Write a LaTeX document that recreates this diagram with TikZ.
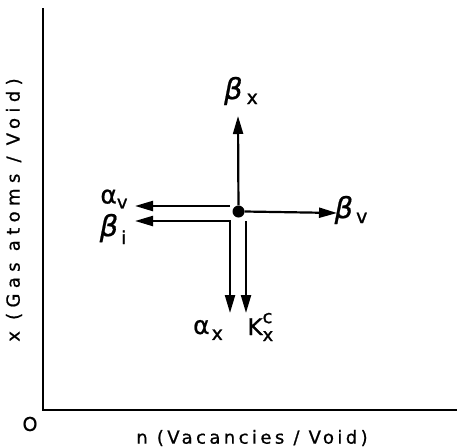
\documentclass[tikz,border=0pt]{standalone}
\usepackage{fontspec}
\setmainfont{DejaVu Sans}[FakeBold=0.8]
\newfontfamily\lblfont[LetterSpace=19,FakeBold=0.8]{DejaVu Sans}
\newfontfamily\ylblfont[LetterSpace=30,FakeBold=0.8]{DejaVu Sans}
\newfontfamily\obl[FakeBold=0.8]{DejaVu Sans Oblique}
\newfontfamily\sub[FakeBold=1.2]{DejaVu Sans}
\usetikzlibrary{arrows.meta}
\tikzset{
  axisline/.style={line width=2.4pt},
  flux/.style={line width=2.2pt,-{Triangle[length=18pt,width=10pt]}},
  fluxboth/.style={line width=2.2pt,{Triangle[length=18pt,width=10pt]}-{Triangle[length=18pt,width=10pt]}},
  lbl/.style={inner sep=0pt},
}
\begin{document}
\begin{tikzpicture}[x=1pt,y=-1pt]
\useasboundingbox (0,0) rectangle (457,447);
% axes
\coordinate (top) at (43,8);
\coordinate (orig) at (43,410);
\coordinate (right) at (457,410);
\draw[axisline] (top) -- (orig) -- (right);
\node[lbl] (o) at (30,424) {\fontsize{19}{22}\selectfont O};
\node[lbl] (xlab) at (252,438) {\fontsize{18}{22}\lblfont n (Vacancies / Void)};
\node[lbl,rotate=90] (ylab) at (14,210) {\fontsize{18}{22}\ylblfont x (Gas atoms / Void)};
% center
\node[circle,fill,inner sep=0pt,minimum size=12pt] (c) at (238.5,211.5) {};
\coordinate (up) at (238,116);
\coordinate (rt) at (337,213);
\coordinate (avs) at (230,206);
\coordinate (ave) at (135,206);
\coordinate (corner) at (230,221);
\coordinate (bie) at (135,221);
\coordinate (axe) at (230,313);
\coordinate (kxs) at (246,221);
\coordinate (kxe) at (246,313);
\draw[flux] (c) -- (up);
\draw[flux] (c.east) -- (rt);
\draw[flux] (avs) -- (ave);
\draw[fluxboth] (axe) -- (corner) -- (bie);
\draw[flux] (kxs) -- (kxe);
% labels
\node[lbl] (bx) at (241,91) {{\fontsize{29}{32}\obl β}\hspace{4pt}{\fontsize{19}{22}\sub\raisebox{-5pt}{x}}};
\node[lbl] (bv) at (351,210) {{\fontsize{29}{32}\obl β}\hspace{3pt}{\fontsize{19}{22}\sub\raisebox{-5pt}{v}}};
\node[lbl] (av) at (114,199) {{\fontsize{25}{28}\selectfont α}{\fontsize{18}{22}\sub\raisebox{-5pt}{v}}};
\node[lbl] (bi) at (113,229) {{\fontsize{29}{32}\obl β}\hspace{3pt}{\fontsize{18}{22}\sub\raisebox{-8pt}{i}}};
\node[lbl] (ax) at (208,330) {{\fontsize{25}{28}\selectfont α}\hspace{2pt}{\fontsize{19}{22}\sub\raisebox{-6pt}{x}}};
\node[lbl] (kx) at (260,327) {{\fontsize{23}{26}\selectfont K}{\fontsize{18}{22}\sub\raisebox{-6pt}{\rlap{x}}\raisebox{12pt}{c}}};
\end{tikzpicture}
\end{document}
